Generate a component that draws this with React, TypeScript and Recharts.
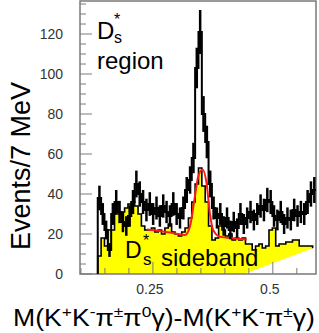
import { ComposedChart, Area, Line, Scatter, ErrorBar, XAxis, YAxis, ReferenceArea } from "recharts"

// histogram binning: 7 MeV bins
const binStart = 0.135
const binWidth = 0.007

// D_s* region (black, with errors)
const regionCounts = [
  38, 30, 22, 12, 30, 36, 31, 26, 24, 29,
  36, 45, 40, 36, 32, 35, 30, 33, 29, 34,
  31, 29, 35, 30, 28, 33, 42, 47, 58, 103,
  121, 80, 66, 45, 33, 28, 30, 24, 28, 22,
  26, 23, 30, 25, 28, 31, 27, 30, 34, 32,
  37, 36, 29, 27, 31, 25, 28, 27, 32, 29,
  31, 30, 36, 40, 42,
]

// D_s* sideband (yellow)
const sidebandCounts = [
  9, 18, 14, 22, 22, 30, 30, 31, 33, 35,
  36, 34, 30, 24, 22, 22, 23, 21, 22, 20,
  23, 25, 21, 20, 19, 21, 23, 28, 36, 45,
  53, 44, 36, 24, 17, 18, 24, 22, 19, 20,
  17, 18, 17, 18, 15, 15, 12, 14, 15, 13,
  14, 22, 23, 14, 15, 15, 16, 16, 17, 17,
  14, 14, 14, 14, 8,
]

// red fit on the sideband
const fitX = [0.2375, 0.2708, 0.2958, 0.3167, 0.3271, 0.3375, 0.3444, 0.3535, 0.3619, 0.3688, 0.3756, 0.3896, 0.4208, 0.4458]
const fitY = [22.3, 21.3, 20.3, 19.5, 23.7, 38.7, 48.7, 52.3, 45.3, 30.3, 22, 18.7, 17.8, 17.3]

// white wedge at lower right
const wedgeX = [0.44, 0.59]
const wedgeY = [0, 13.5]

const yTicks = [0, 5, 10, 15, 20, 25, 30, 35, 40, 45, 50, 55, 60, 65, 70, 75, 80, 85, 90, 95, 100, 105, 110, 115, 120, 125, 130, 135]
const yLabels = [0, 20, 40, 60, 80, 100, 120]
const xTicks = [0.1, 0.15, 0.2, 0.25, 0.3, 0.35, 0.4, 0.45, 0.5, 0.55]
const xLabels: Record<string, string> = { "0.25": "0.25", "0.5": "0.5" }

const FONT = "'Liberation Sans', Arial, sans-serif"
const FRAME = "#7a7a7a"
const LEFT = 80
const BOTTOM = 274

type Row = { x: number; black?: number; yellow?: number; fit?: number; wedge?: number }

const rows: Row[] = [{ x: binStart, black: 0, yellow: 0 }]
regionCounts.forEach((v, i) => {
  rows.push({ x: binStart + i * binWidth, black: v, yellow: sidebandCounts[i] })
})
const n = regionCounts.length
rows.push({ x: binStart + n * binWidth, black: regionCounts[n - 1], yellow: sidebandCounts[n - 1] })
fitX.forEach((x, i) => rows.push({ x, fit: fitY[i] }))
wedgeX.forEach((x, i) => rows.push({ x, wedge: wedgeY[i] }))
rows.sort((a, b) => a.x - b.x)

const errPoints = regionCounts.map((v, i) => ({
  x: binStart + (i + 0.5) * binWidth,
  y: v,
  err: Math.sqrt(v),
}))

function YTick(props: any) {
  const { y, payload } = props
  const v = payload.value
  const major = yLabels.includes(v)
  return (
    <g>
      <line x1={LEFT} x2={LEFT + (major ? 12 : 6)} y1={y} y2={y} stroke={FRAME} strokeWidth={1} />
      {major && (
        <text x={63} y={y} textAnchor="end" dominantBaseline="central" fontSize={14} fontFamily={FONT} fill="#333">
          {v}
        </text>
      )}
    </g>
  )
}

function XTick(props: any) {
  const { x, payload } = props
  const label = xLabels[String(payload.value)]
  return (
    <g>
      <line x1={x} x2={x} y1={BOTTOM} y2={BOTTOM - (label ? 12 : 6)} stroke={FRAME} strokeWidth={1} />
      {label && (
        <text x={x - 3} y={294} textAnchor="middle" fontSize={14} fontFamily={FONT} fill="#333">
          {label}
        </text>
      )}
    </g>
  )
}

const SUP = { dy: -9, fontSize: 15 }
const DOWN = { dy: 9 }

function Texts() {
  return (
    <svg width={319} height={333} style={{ position: "absolute", left: 0, top: 0, pointerEvents: "none" }}>
      <g fontFamily={FONT} fill="#000">
        <text x={97} y={39} fontSize={24}>D</text>
        <text x={114} y={25} fontSize={16}>*</text>
        <text x={114} y={43} fontSize={16}>s</text>
        <text x={97} y={69} fontSize={24}>region</text>

        <text x={125} y={258} fontSize={23}>D</text>
        <text x={143} y={246} fontSize={16}>*</text>
        <text x={143} y={265} fontSize={17}>s</text>
        <text x={161} y={266} fontSize={24}>sideband</text>

        <text transform="translate(30,166) rotate(-90)" textAnchor="middle" fontSize={27}>
          Events/7 MeV
        </text>

        <text x={13} y={326} fontSize={23} textLength={302} lengthAdjust="spacingAndGlyphs">
          M(K<tspan {...SUP}>+</tspan>
          <tspan {...DOWN}>K</tspan><tspan {...SUP}>-</tspan>
          <tspan {...DOWN}>π</tspan><tspan {...SUP}>±</tspan>
          <tspan {...DOWN}>π</tspan><tspan {...SUP}>0</tspan>
          <tspan {...DOWN}>γ)-M(K</tspan><tspan {...SUP}>+</tspan>
          <tspan {...DOWN}>K</tspan><tspan {...SUP}>-</tspan>
          <tspan {...DOWN}>π</tspan><tspan {...SUP}>±</tspan>
          <tspan {...DOWN}>γ)</tspan>
        </text>
      </g>
    </svg>
  )
}

export default function App() {
  return (
    <div style={{ position: "absolute", left: 0, top: 0, width: 319, height: 333, background: "#fff" }}>
      <ComposedChart width={319} height={333} data={rows} margin={{ top: 1, right: 3, left: 0, bottom: 0 }}>
        <XAxis
          dataKey="x"
          type="number"
          domain={[0.098, 0.59]}
          allowDataOverflow
          ticks={xTicks}
          interval={0}
          tick={XTick}
          tickLine={false}
          axisLine={false}
          height={59}
        />
        <YAxis
          type="number"
          domain={[0, 136.5]}
          allowDataOverflow
          ticks={yTicks}
          interval={0}
          tick={YTick}
          tickLine={false}
          axisLine={false}
          width={80}
        />
        <Area
          dataKey="yellow"
          type="stepAfter"
          fill="#ffff00"
          fillOpacity={1}
          stroke="#000"
          strokeWidth={1.6}
          connectNulls
          isAnimationActive={false}
          dot={false}
          activeDot={false}
        />
        <Area
          dataKey="wedge"
          type="linear"
          fill="#fff"
          fillOpacity={1}
          stroke="none"
          connectNulls
          isAnimationActive={false}
          dot={false}
          activeDot={false}
        />
        <Line
          dataKey="fit"
          type="monotone"
          stroke="#ff1a1a"
          strokeWidth={2}
          connectNulls
          dot={false}
          activeDot={false}
          isAnimationActive={false}
        />
        <Line
          dataKey="black"
          type="stepAfter"
          stroke="#000"
          strokeWidth={2}
          connectNulls
          dot={false}
          activeDot={false}
          isAnimationActive={false}
        />
        <Scatter data={errPoints} dataKey="y" shape={() => <g />} isAnimationActive={false}>
          <ErrorBar dataKey="err" direction="y" width={0} stroke="#000" strokeWidth={2.5} isAnimationActive={false} />
        </Scatter>
        <ReferenceArea x1={0.098} x2={0.59} y1={0} y2={136.5} fill="none" stroke={FRAME} strokeWidth={1.5} ifOverflow="visible" />
      </ComposedChart>
      <Texts />
    </div>
  )
}
